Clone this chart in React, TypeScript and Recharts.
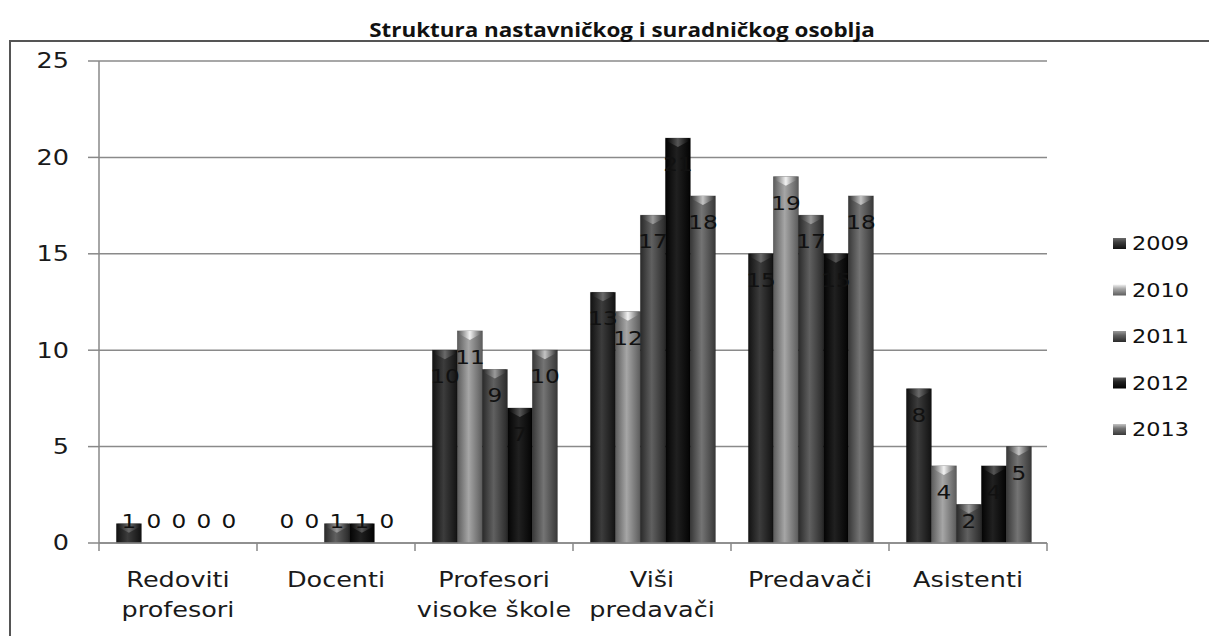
import { Bar, BarChart, CartesianGrid, LabelList, XAxis, YAxis } from 'recharts';

const categories = ['Redoviti\nprofesori', 'Docenti', 'Profesori\nvisoke škole', 'Viši\npredavači', 'Predavači', 'Asistenti'];
const years = ['2009', '2010', '2011', '2012', '2013'];
const v2009 = [1, 0, 10, 13, 15, 8];
const v2010 = [0, 0, 11, 12, 19, 4];
const v2011 = [0, 1, 9, 17, 17, 2];
const v2012 = [0, 1, 7, 21, 15, 4];
const v2013 = [0, 0, 10, 18, 18, 5];
const yTicks = [0, 5, 10, 15, 20, 25];
const title = 'Struktura nastavničkog i suradničkog osoblja';

const series = [v2009, v2010, v2011, v2012, v2013];
const data = categories.map((name, i) => {
  const row: Record<string, string | number> = { name };
  years.forEach((y, s) => (row[y] = series[s][i]));
  return row;
});

// edge, middle, cap highlight
const shades = [
  ['#121212', '#3c3c3c', '#6a6a6a'],
  ['#5c5c5c', '#a6a6a6', '#f2f2f2'],
  ['#2a2a2a', '#606060', '#9a9a9a'],
  ['#030303', '#202020', '#555555'],
  ['#383838', '#747474', '#c4c4c4'],
];

const W = 1209;
const H = 636;
const M = { top: 61, right: 162, bottom: 0, left: 0 };
const Y_AXIS_W = 99;
const X_AXIS_H = 93;
const PLOT_W = W - M.left - M.right - Y_AXIS_W;
const BAND = PLOT_W / categories.length;
const FONT = 'DejaVu Sans, Verdana, sans-serif';
const STRETCH = 1.16;

function BarShape(props: any, s: number) {
  const { x, y, width, height } = props;
  if (!height || height <= 0) return <g />;
  const cap = Math.min(9, height);
  return (
    <g>
      <rect x={x} y={y} width={width} height={height} fill={`url(#grad${s})`} stroke="#000" strokeOpacity={0.35} strokeWidth={0.8} />
      <path
        d={`M${x + 1},${y} L${x + width - 1},${y} L${x + width - 1},${y + cap * 0.3} L${x + width / 2},${y + cap} L${x + 1},${y + cap * 0.3} Z`}
        fill={`url(#cap${s})`}
      />
    </g>
  );
}

function ValueLabel(props: any) {
  const { x, y, width, height, value } = props;
  const cx = x + width / 2;
  const cy = Math.min(y + 26, y + height - 22);
  return (
    <text
      transform={`translate(${cx},${cy}) scale(${STRETCH},1)`}
      textAnchor="middle"
      dominantBaseline="central"
      fontFamily={FONT}
      fontSize={20}
      fill="#111"
    >
      {value}
    </text>
  );
}

function CategoryTick(props: any) {
  const { x, y, payload, index } = props;
  const lines = String(payload.value).split('\n');
  const left = x - BAND / 2;
  return (
    <g>
      <line x1={left} x2={left} y1={y} y2={y + 8} stroke="#888" strokeWidth={1.5} />
      {index === categories.length - 1 && (
        <line x1={left + BAND} x2={left + BAND} y1={y} y2={y + 8} stroke="#888" strokeWidth={1.5} />
      )}
      {lines.map((l, i) => (
        <text
          key={i}
          transform={`translate(${x},${y + 37 + i * 30}) scale(${STRETCH},1)`}
          textAnchor="middle"
          dominantBaseline="central"
          fontFamily={FONT}
          fontSize={22}
          fill="#1a1a1a"
        >
          {l}
        </text>
      ))}
    </g>
  );
}

function ValueTick(props: any) {
  const { x, y, payload } = props;
  return (
    <text
      transform={`translate(${x},${y}) scale(${STRETCH},1)`}
      textAnchor="end"
      dominantBaseline="central"
      fontFamily={FONT}
      fontSize={22}
      fill="#1a1a1a"
    >
      {payload.value}
    </text>
  );
}

export default function App() {
  return (
    <div style={{ position: 'absolute', left: 0, top: 0, width: W, height: H, background: '#fff' }}>
      <BarChart width={W} height={H} data={data} margin={M} barCategoryGap="11%" barGap={0}>
        <defs>
          {shades.map((c, s) => (
            <linearGradient key={`g${s}`} id={`grad${s}`} x1="0" y1="0" x2="1" y2="0">
              <stop offset="0%" stopColor={c[0]} />
              <stop offset="45%" stopColor={c[1]} />
              <stop offset="100%" stopColor={c[0]} />
            </linearGradient>
          ))}
          {shades.map((c, s) => (
            <linearGradient key={`c${s}`} id={`cap${s}`} x1="0" y1="0" x2="1" y2="0">
              <stop offset="0%" stopColor={c[0]} />
              <stop offset="50%" stopColor={c[2]} />
              <stop offset="100%" stopColor={c[0]} />
            </linearGradient>
          ))}
        </defs>
        <CartesianGrid vertical={false} stroke="#8a8a8a" strokeWidth={1.5} />
        <XAxis
          dataKey="name"
          height={X_AXIS_H}
          interval={0}
          tickSize={0}
          tickMargin={0}
          tickLine={false}
          axisLine={{ stroke: '#888', strokeWidth: 1.5 }}
          tick={CategoryTick}
        />
        <YAxis
          width={Y_AXIS_W}
          domain={[0, 25]}
          ticks={yTicks}
          interval={0}
          tickSize={11}
          tickMargin={19}
          tickLine={{ stroke: '#888', strokeWidth: 1.5 }}
          axisLine={{ stroke: '#888', strokeWidth: 1.5 }}
          tick={ValueTick}
        />
        {years.map((yr, s) => (
          <Bar key={yr} dataKey={yr} isAnimationActive={false} shape={(p: any) => BarShape(p, s)}>
            <LabelList dataKey={yr} content={ValueLabel} />
          </Bar>
        ))}
      </BarChart>
      <svg width={W} height={H} style={{ position: 'absolute', left: 0, top: 0, pointerEvents: 'none' }}>
        <defs>
          {shades.map((c, s) => (
            <linearGradient key={s} id={`leg${s}`} x1="0" y1="0" x2="0" y2="1">
              <stop offset="0%" stopColor={c[2]} />
              <stop offset="40%" stopColor={c[1]} />
              <stop offset="100%" stopColor={c[0]} />
            </linearGradient>
          ))}
        </defs>
        <rect x={10} y={41} width={W + 20} height={H} fill="none" stroke="#555" strokeWidth={2} />
        <text
          transform="translate(622,30) scale(1.18,1)"
          textAnchor="middle"
          dominantBaseline="central"
          fontFamily="Open Sans, sans-serif"
          fontWeight={700}
          fontSize={19}
          fill="#111"
        >
          {title}
        </text>
        {years.map((yr, s) => (
          <g key={yr}>
            <rect x={1113} y={243 + s * 46.5 - 5} width={13} height={11} fill={`url(#leg${s})`} />
            <text
              transform={`translate(${1132},${243 + s * 46.5}) scale(1.12,1)`}
              dominantBaseline="central"
              fontFamily={FONT}
              fontSize={20}
              fill="#111"
            >
              {yr}
            </text>
          </g>
        ))}
      </svg>
    </div>
  );
}
